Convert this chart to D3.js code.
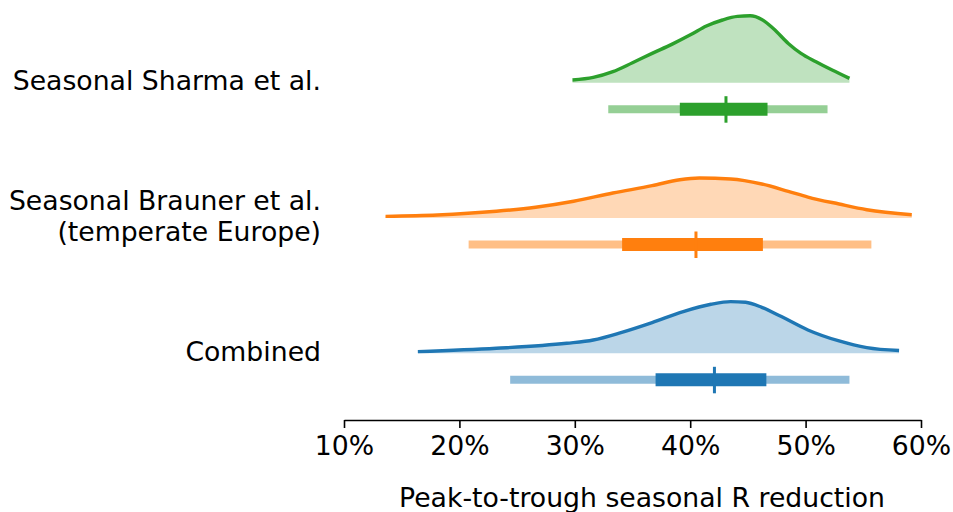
<!DOCTYPE html>
<html lang="en">
  <head>
    <meta charset="utf-8" />
    <title>Seasonal R reduction</title>
    <script src="https://d3js.org/d3.v7.min.js"></script>
    <style>
      body { margin: 0; background: #fff; }
      text { font-family: "DejaVu Sans", sans-serif; fill: #000; }
    </style>
  </head>
  <body>
    <script type="text/javascript">
      // rows, top to bottom
      const rows = ["Seasonal Sharma et al.", "Seasonal Brauner et al.\n(temperate Europe)", "Combined"];
      const colors = ["#2ca02c", "#ff7f0e", "#1f77b4"];

      // posterior density curves (x in %, density per %)
      const sharmaX = [29.8, 31.6, 33.3, 35.0, 36.7, 38.4, 40.1, 41.4, 42.8, 44.1, 45.2, 46.2, 47.2, 48.5, 49.6, 50.9, 52.3, 53.8];
      const sharmaD = [0.0036, 0.0070, 0.0145, 0.0263, 0.0386, 0.0504, 0.0636, 0.0745, 0.0825, 0.0872, 0.0880, 0.0833, 0.0714, 0.0517, 0.0386, 0.0276, 0.0167, 0.0057];
      const braunerX = [13.6, 18.1, 23.2, 26.6, 29.9, 33.3, 36.7, 39.1, 40.8, 43.5, 46.2, 48.5, 50.2, 52.9, 55.3, 59.2];
      const braunerD = [0.0022, 0.0039, 0.0088, 0.0141, 0.0220, 0.0329, 0.0425, 0.0504, 0.0526, 0.0513, 0.0447, 0.0351, 0.0276, 0.0184, 0.0109, 0.0043];
      const combinedX = [16.4, 23.2, 29.3, 31.6, 34.0, 36.7, 39.4, 41.8, 43.5, 44.8, 46.2, 47.9, 50.2, 52.9, 55.3, 58.1];
      const combinedD = [0.0022, 0.0066, 0.0132, 0.0175, 0.0272, 0.0404, 0.0549, 0.0645, 0.0680, 0.0671, 0.0605, 0.0483, 0.0307, 0.0162, 0.0075, 0.0036];

      // summary: median, 50% interval, 95% interval (in %)
      const medians = [43.1, 40.5, 42.1];
      const inner = [[39.1, 46.7], [34.1, 46.3], [37.0, 46.6]];
      const outer = [[32.9, 51.9], [20.8, 55.7], [24.4, 53.8]];

      const xTicks = [10, 20, 30, 40, 50, 60];

      const curves = [
        d3.zip(sharmaX, sharmaD),
        d3.zip(braunerX, braunerD),
        d3.zip(combinedX, combinedD),
      ];

      const w = 953;
      const h = 512;
      const fontSize = "26.7px";

      const svg = d3.select("body").append("svg").attr("width", w).attr("height", h);

      const xScale = d3.scaleLinear().domain([10, 60]).range([344, 921]);
      const rowScale = d3.scalePoint().domain(rows).range([82.7, 353.3]);
      const dScale = d3.scaleLinear().domain([0, 0.1]).range([0, 76]);

      const area = d3
        .area()
        .x((d) => xScale(d[0]))
        .y1((d) => -dScale(d[1]))
        .y0(0)
        .curve(d3.curveMonotoneX);
      const line = d3
        .line()
        .x((d) => xScale(d[0]))
        .y((d) => -dScale(d[1]))
        .curve(d3.curveMonotoneX);

      const g = svg
        .selectAll("g.row")
        .data(rows)
        .enter()
        .append("g")
        .attr("class", "row")
        .attr("transform", (d) => "translate(0," + rowScale(d) + ")");

      g.append("path")
        .attr("d", (d, i) => area(curves[i]))
        .attr("fill", (d, i) => colors[i])
        .attr("fill-opacity", 0.3);

      g.append("path")
        .attr("d", (d, i) => line(curves[i]))
        .attr("fill", "none")
        .attr("stroke", (d, i) => colors[i])
        .attr("stroke-width", 3.4);

      // 95% interval
      g.append("line")
        .attr("x1", (d, i) => xScale(outer[i][0]))
        .attr("x2", (d, i) => xScale(outer[i][1]))
        .attr("y1", 26.5)
        .attr("y2", 26.5)
        .attr("stroke", (d, i) => colors[i])
        .attr("stroke-opacity", 0.5)
        .attr("stroke-width", 8);

      // 50% interval
      g.append("line")
        .attr("x1", (d, i) => xScale(inner[i][0]))
        .attr("x2", (d, i) => xScale(inner[i][1]))
        .attr("y1", 26.5)
        .attr("y2", 26.5)
        .attr("stroke", (d, i) => colors[i])
        .attr("stroke-width", 13);

      // median
      g.append("line")
        .attr("x1", (d, i) => xScale(medians[i]))
        .attr("x2", (d, i) => xScale(medians[i]))
        .attr("y1", 13.5)
        .attr("y2", 40)
        .attr("stroke", (d, i) => colors[i])
        .attr("stroke-width", 3);

      // row labels
      g.append("text")
        .attr("text-anchor", "end")
        .attr("font-size", fontSize)
        .attr("x", 321)
        .each(function (d) {
          const parts = d.split("\n");
          const t = d3.select(this);
          parts.forEach((p, j) => {
            t.append("tspan")
              .attr("x", 321)
              .attr("y", (j - (parts.length - 1) / 2) * 31 - 2)
              .attr("dominant-baseline", "central")
              .text(p);
          });
        });

      // x axis
      const xAxis = d3
        .axisBottom(xScale)
        .tickValues(xTicks)
        .tickFormat((d) => d + "%")
        .tickSize(8)
        .tickSizeOuter(0)
        .tickPadding(8);

      const ax = svg.append("g").attr("transform", "translate(0,420)").call(xAxis);
      ax.select(".domain").attr("stroke-width", 1.6);
      ax.selectAll(".tick line").attr("stroke-width", 1.6);
      ax.selectAll(".tick text").attr("font-size", fontSize).attr("font-family", "DejaVu Sans, sans-serif");

      svg
        .append("text")
        .attr("x", 642)
        .attr("y", 497)
        .attr("text-anchor", "middle")
        .attr("dominant-baseline", "central")
        .attr("font-size", fontSize)
        .text("Peak-to-trough seasonal R reduction");
    </script>
  </body>
</html>
